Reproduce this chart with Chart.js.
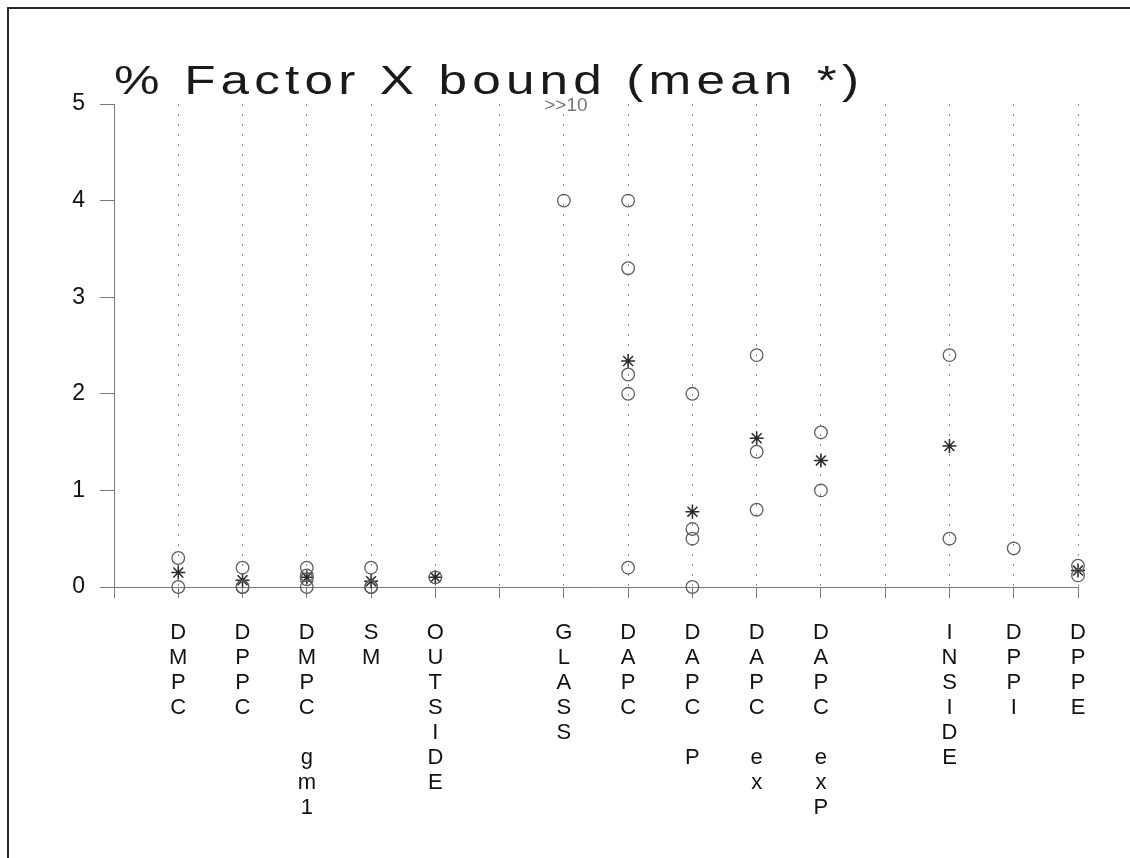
<!DOCTYPE html>
<html>
<head>
<meta charset="utf-8">
<script src="https://cdn.jsdelivr.net/npm/chart.js@4.4.1/dist/chart.umd.min.js"></script>
<style>
  html, body { margin: 0; padding: 0; background: #fff; }
  #wrap { position: relative; width: 1130px; height: 858px; overflow: hidden; }
  #frame { position: absolute; left: 7px; top: 7px; right: -10px; bottom: -10px;
           border-left: 2px solid #2a2a2a; border-top: 2px solid #2a2a2a; pointer-events: none; }
  canvas { position: absolute; left: 0; top: 0; }
</style>
</head>
<body>
<div id="wrap">
  <canvas id="c" width="1130" height="858"></canvas>
  <div id="frame"></div>
</div>
<script>
// ---- data ----
const titleText = '% Factor X bound (mean *)';
const categories = ['DMPC', 'DPPC', 'DMPC gm1', 'SM', 'OUTSIDE', '', 'GLASS', 'DAPC',
                    'DAPC P', 'DAPC ex', 'DAPC exP', '', 'INSIDE', 'DPPI', 'DPPE'];
const sampleValues = [
  [0.3, 0.0],
  [0.2, 0.0, 0.0],
  [0.2, 0.12, 0.08, 0.0],
  [0.2, 0.0, 0.0],
  [0.1],
  [],
  [4.0],
  [4.0, 3.3, 2.2, 2.0, 0.2],
  [2.0, 0.6, 0.5, 0.0],
  [2.4, 1.4, 0.8],
  [1.6, 1.0],
  [],
  [2.4, 0.5],
  [0.4],
  [0.22, 0.12]
];
const meanValues = [0.15, 0.07, 0.1, 0.06, 0.1, null, null, 2.34, 0.78, 1.54, 1.31, null, 1.46, null, 0.17];
const yTicks = [0, 1, 2, 3, 4, 5];
const offScaleCategory = 'GLASS';
const offScaleNote = '>>10';

// ---- build datasets ----
const circlePts = [];
sampleValues.forEach((vals, i) => vals.forEach(v => circlePts.push({ x: i + 1, y: v })));
const meanPts = [];
meanValues.forEach((v, i) => { if (v !== null) meanPts.push({ x: i + 1, y: v }); });

const FONT = "'Liberation Sans', Arial, Helvetica, sans-serif";

const annotations = {
  id: 'annotations',
  afterDraw(chart) {
    const ctx = chart.ctx;
    const xs = chart.scales.x, ys = chart.scales.y;
    ctx.save();
    // title (wide lettering as in the reference)
    const tLeft = 114, tRight = 859, tBase = 94, sx = 1.25;
    ctx.fillStyle = '#1a1a1a';
    ctx.font = '41px ' + FONT;
    ctx.textAlign = 'left';
    ctx.textBaseline = 'alphabetic';
    const chars = titleText.split('');
    const widths = chars.map(ch => ctx.measureText(ch).width * sx);
    const natural = widths.reduce((a, b) => a + b, 0);
    const gap = (tRight - tLeft - natural) / (chars.length - 1);
    let px = tLeft;
    chars.forEach((ch, i) => {
      ctx.save();
      ctx.translate(px, tBase);
      ctx.scale(sx, 1);
      ctx.fillText(ch, 0, 0);
      ctx.restore();
      px += widths[i] + gap;
    });
    // off-scale note
    const gx = xs.getPixelForValue(categories.indexOf(offScaleCategory) + 1);
    const gy = ys.getPixelForValue(yTicks[yTicks.length - 1]);
    ctx.fillStyle = '#777';
    ctx.font = '19px ' + FONT;
    ctx.textAlign = 'center';
    ctx.textBaseline = 'middle';
    ctx.fillText(offScaleNote, gx + 2, gy + 2);
    ctx.restore();
  }
};

new Chart(document.getElementById('c'), {
  type: 'scatter',
  data: {
    datasets: [
      {
        label: 'values',
        data: circlePts,
        clip: false,
        pointStyle: 'circle',
        pointRadius: 6.3,
        pointHoverRadius: 6.3,
        borderColor: '#5e5e5e',
        backgroundColor: 'rgba(0,0,0,0)',
        pointBorderWidth: 1.3
      },
      {
        label: 'mean',
        data: meanPts,
        clip: false,
        pointStyle: 'star',
        pointRadius: 7,
        pointHoverRadius: 7,
        borderColor: '#2a2a2a',
        backgroundColor: 'rgba(0,0,0,0)',
        pointBorderWidth: 1.5
      }
    ]
  },
  options: {
    responsive: false,
    animation: false,
    devicePixelRatio: 1,
    layout: { padding: { left: 0, right: 52, top: 104, bottom: 0 } },
    plugins: { legend: { display: false }, tooltip: { enabled: false }, title: { display: false } },
    scales: {
      x: {
        type: 'linear',
        min: 0,
        max: categories.length,
        afterBuildTicks(scale) {
          scale.ticks = [];
          for (let i = 0; i <= categories.length; i++) scale.ticks.push({ value: i });
        },
        afterFit(scale) { scale.height = 858 - 587; },
        border: { display: true, color: '#7a7a7a', width: 1, dash: [2, 8] },
        grid: {
          display: true,
          drawOnChartArea: true,
          drawTicks: true,
          tickLength: 11,
          color: '#8e8e8e',
          lineWidth: 1,
          tickBorderDash: [],
          tickColor: '#7a7a7a',
          tickWidth: 1
        },
        ticks: {
          autoSkip: false,
          maxRotation: 0,
          minRotation: 0,
          padding: 22,
          color: '#111',
          font: { family: FONT, size: 22, lineHeight: 1.14 },
          callback(value) {
            const name = categories[value - 1];
            if (!name) return '';
            return name.split('');
          }
        }
      },
      y: {
        type: 'linear',
        min: yTicks[0],
        max: yTicks[yTicks.length - 1],
        afterBuildTicks(scale) { scale.ticks = yTicks.map(v => ({ value: v })); },
        afterFit(scale) { scale.width = 114; },
        border: { display: true, color: '#7a7a7a', width: 1 },
        grid: {
          display: true,
          drawOnChartArea: false,
          drawTicks: true,
          tickLength: 14,
          tickColor: '#7a7a7a',
          tickWidth: 1
        },
        ticks: {
          padding: 15,
          color: '#111',
          font: { family: FONT, size: 23 }
        }
      }
    }
  },
  plugins: [annotations]
});
</script>
</body>
</html>
